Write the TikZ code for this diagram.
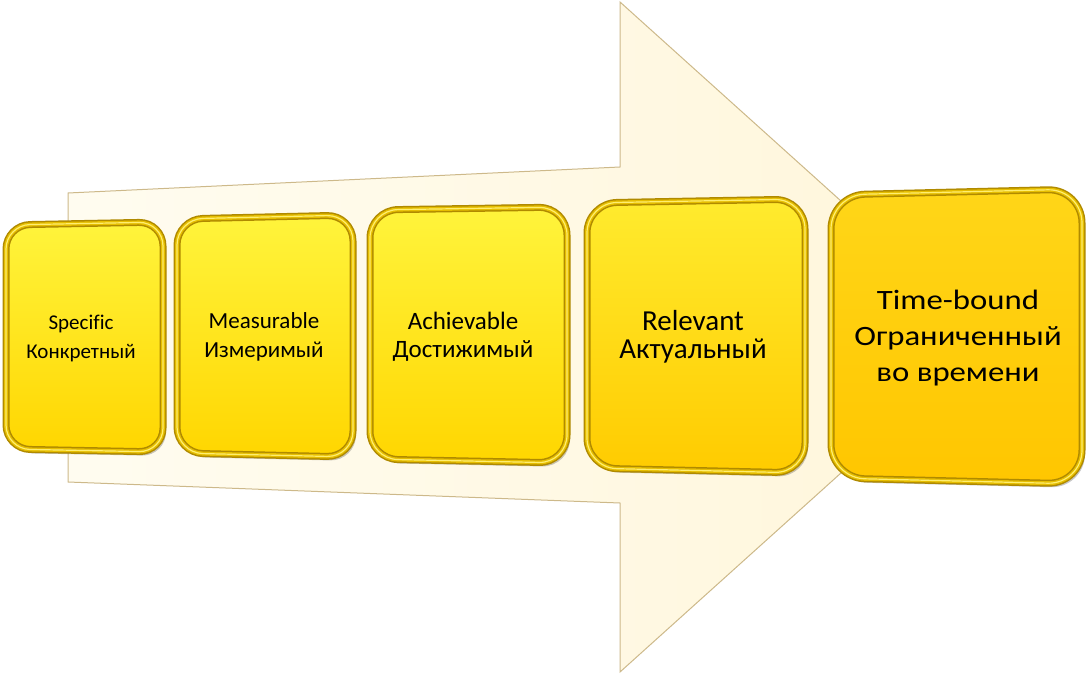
\documentclass[tikz,border=0pt]{standalone}
\usepackage{fontspec}
\setmainfont{Carlito}[Ligatures=CommonOff]
\newfontfamily\widefont[FakeStretch=1.17,Ligatures=CommonOff]{Carlito}
\definecolor{arrowL}{HTML}{FFFCF0}
\definecolor{arrowR}{HTML}{FFF6DA}
\definecolor{arrowedge}{HTML}{CDB98A}
\definecolor{rimdark}{HTML}{B08A00}
\definecolor{rimmid}{HTML}{E6BE00}
\definecolor{rimlight}{HTML}{FFEE70}
\definecolor{yA}{HTML}{FFF43C}
\definecolor{yB}{HTML}{FFD600}
\definecolor{yC}{HTML}{FFEB2E}
\definecolor{yD}{HTML}{FFCB00}
\definecolor{yE}{HTML}{FFD618}
\definecolor{yF}{HTML}{FFC600}
\tikzset{
  arrowbody/.style={left color=arrowL, right color=arrowR, draw=arrowedge, line width=1pt, line join=miter},
  boxshadow/.style={fill=black, opacity=0.22},
  boxlabel/.style={align=center, text=black, inner sep=0pt},
}
\newcommand{\goldbox}[7]{%
  \path[boxshadow, rounded corners=#7pt, shift={(3,4)}] #1 -- #2 -- #3 -- #4 -- cycle;
  \path[top color=#5, bottom color=#6, rounded corners=#7pt, draw=rimdark, line width=7pt] #1 -- #2 -- #3 -- #4 -- cycle;
  \path[rounded corners=#7pt, draw=rimmid, line width=4pt] #1 -- #2 -- #3 -- #4 -- cycle;
  \path[rounded corners=#7pt, draw=rimlight, line width=1.2pt] #1 -- #2 -- #3 -- #4 -- cycle;
}
\begin{document}
\begin{tikzpicture}[x=1pt,y=-1pt]
\useasboundingbox (0,0) rectangle (1087,674);
% big arrow
\path[arrowbody] (68,193) -- (620,167) -- (620,2) -- (992,337) -- (620,672) -- (620,503) -- (68,482) -- cycle;
% boxes
\goldbox{(6,225)}{(163,222)}{(163,452)}{(6,449)}{yA}{yB}{24}
\goldbox{(177,219)}{(353,215)}{(353,457)}{(177,453)}{yA}{yB}{26}
\goldbox{(370,210)}{(567,207)}{(567,463)}{(370,459)}{yA}{yB}{28}
\goldbox{(587,203)}{(805,199)}{(805,473)}{(587,468)}{yC}{yD}{30}
\goldbox{(831,195)}{(1082,189)}{(1082,484)}{(831,478)}{yE}{yF}{34}
% labels
\node[boxlabel, font=\fontsize{21}{29}\selectfont] (s) at (81,338) {Specific\\Конкретный};
\node[boxlabel, font=\fontsize{23}{29}\selectfont] (m) at (264,337) {Measurable\\Измеримый};
\node[boxlabel, font=\fontsize{25}{28.5}\selectfont] (a) at (463,337) {Achievable\\Достижимый};
\node[boxlabel, font=\fontsize{29}{28.5}\selectfont] (r) at (693,337) {Relevant\\Актуальный};
\node[boxlabel, font=\widefont\fontsize{28}{36}\selectfont] (t) at (958,338) {Time-bound\\Ограниченный\\во времени};
\end{tikzpicture}
\end{document}
